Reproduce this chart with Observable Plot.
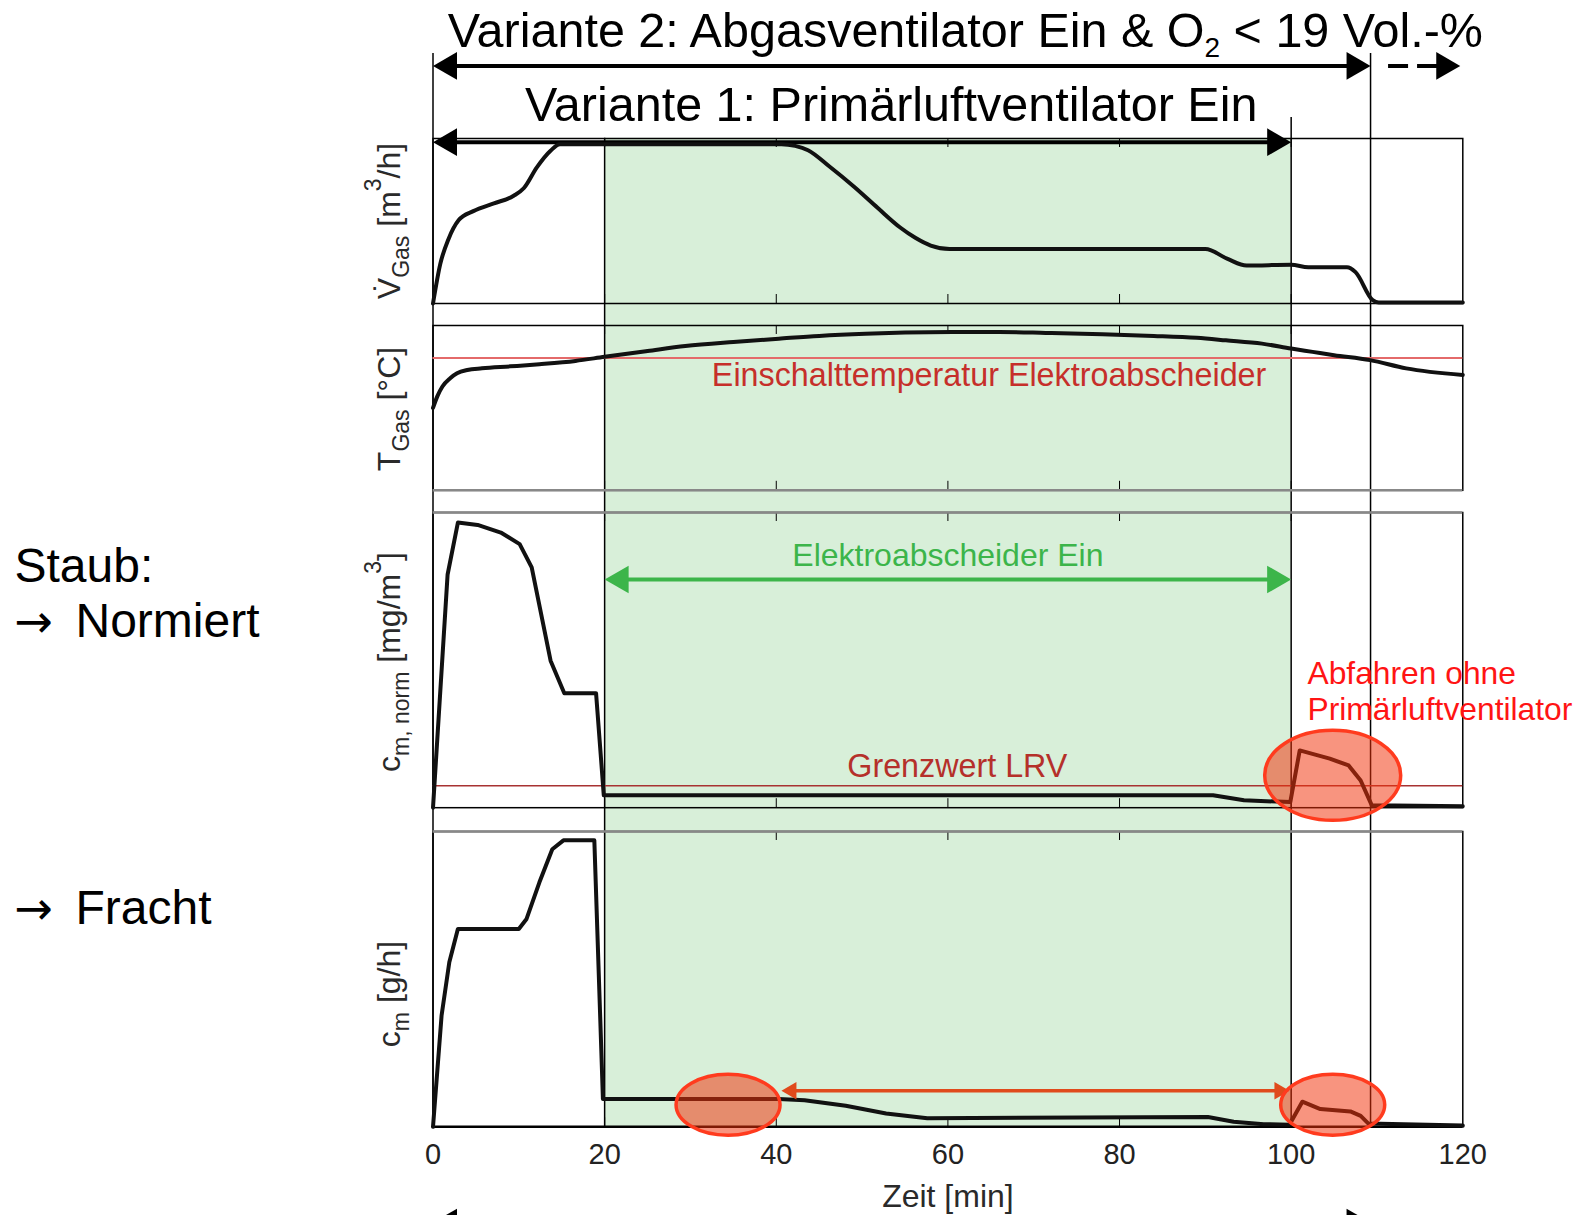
<!DOCTYPE html>
<html lang="de">
<head>
<meta charset="utf-8">
<script src="https://cdn.jsdelivr.net/npm/d3@7"></script>
<script src="https://cdn.jsdelivr.net/npm/@observablehq/plot@0.6"></script>
<style>
  html, body { margin: 0; padding: 0; background: #fff; overflow: hidden; }
  #root { position: relative; width: 1577px; height: 1215px; overflow: hidden; background: #fff; }
  #root > svg { position: absolute; left: 0; }
</style>
</head>
<body>
<div id="root"></div>
<script>
// ---------------- data ----------------
const xTicks = [0, 20, 40, 60, 80, 100, 120];
const innerTicks = [20, 40, 60, 80, 100];

// Volumenstrom Abgas (normiert 0..1)
const flowTime  = [0, 0.85, 1.8, 3.0, 4.7, 7.1, 9.4, 10.6, 12.1, 13.7, 14.8, 40.6, 42.2, 43.7, 46.2, 49.1, 51.8, 54.4, 56.2, 58, 60.2, 90, 92.6, 94.8, 100, 102, 106.5, 107.5, 109.5, 110.2, 120];
const flowValue = [0, 0.24, 0.39, 0.506, 0.56, 0.607, 0.653, 0.70, 0.825, 0.926, 0.965, 0.965, 0.955, 0.929, 0.83, 0.706, 0.58, 0.462, 0.398, 0.351, 0.33, 0.33, 0.27, 0.23, 0.235, 0.22, 0.22, 0.19, 0.02, 0.006, 0.006];

// Abgastemperatur (normiert)
const tempTime  = [0, 0.5, 1.1, 2, 2.8, 4, 5.7, 9, 12.4, 16.6, 20, 25, 29.4, 35, 40.3, 45, 50.4, 55, 60.5, 66, 71.4, 78, 84, 89, 92.4, 96.6, 100, 102.5, 105, 109.2, 113.4, 120];
const tempValue = [0.50, 0.57, 0.63, 0.68, 0.71, 0.73, 0.74, 0.752, 0.765, 0.785, 0.81, 0.845, 0.875, 0.90, 0.92, 0.937, 0.95, 0.957, 0.96, 0.96, 0.955, 0.947, 0.937, 0.925, 0.91, 0.89, 0.86, 0.84, 0.82, 0.79, 0.74, 0.70];
const tempThreshold = [0.803];

// Staub normiert
const dustNormTime  = [0, 1.7, 2.9, 5.2, 7.9, 10.1, 11.5, 13.7, 15.3, 19.0, 19.9, 90.9, 94.5, 99.9, 101.0, 104.5, 106.7, 108.1, 109.4, 120];
const dustNormValue = [0, 0.79, 0.966, 0.958, 0.932, 0.893, 0.814, 0.498, 0.388, 0.388, 0.042, 0.042, 0.025, 0.019, 0.194, 0.166, 0.143, 0.092, 0.008, 0.005];
const dustLimit = [0.074];

// Staubfracht
const dustLoadTime  = [0, 1.0, 1.9, 2.9, 10.0, 10.9, 12.4, 13.9, 15.2, 18.8, 19.8, 40.3, 43.3, 48.1, 52.8, 57.6, 90.3, 93.3, 96.8, 99.8, 101.3, 103.4, 106.9, 108.1, 109.0, 120];
const dustLoadValue = [0, 0.377, 0.557, 0.67, 0.67, 0.704, 0.828, 0.94, 0.97, 0.97, 0.094, 0.094, 0.09, 0.071, 0.045, 0.029, 0.033, 0.017, 0.009, 0.007, 0.085, 0.06, 0.052, 0.037, 0.011, 0.004];

// Phasen (min)
const esPhase = [20, 100];          // Elektroabscheider Ein / Variante 1
const fanOffTime = 109.25;          // Ende Variante 2
const dashEndTime = 119.7;
const loadCompare = [40.6, 99.8];   // Pfeil in Staubfracht

// Texte
const title2 = ["Variante 2: Abgasventilator Ein & O", "2", " < 19 Vol.-%"];
const title1 = "Variante 1: Primärluftventilator Ein";
const sideWords = ["Staub:", "Normiert", "Fracht"];
const sideArrows = ["", "→", "→"];
const tempText = "Einschalttemperatur Elektroabscheider";
const esText = "Elektroabscheider Ein";
const limitText = "Grenzwert LRV";
const shutdownText = "Abfahren ohne\nPrimärluftventilator";
const xLabel = "Zeit [min]";

// ---------------- layout ----------------
const W = 1577, H = 1215;
const ML = 432.5, MR = W - 1462.3;
const FONT = '"Liberation Sans", Arial, Helvetica, sans-serif';
const GREEN = "#d8efd9";
const panels = [
  {top: 137.8, bottom: 302.8},
  {top: 325.2, bottom: 490},
  {top: 511.8, bottom: 807},
  {top: 830.7, bottom: 1126}
];
const root = document.getElementById("root");
const rows = (t, v) => t.map((d, i) => ({t: d, v: v[i]}));

function heads(data, dir, s, fill) {
  const r = Math.sqrt(s * s * 3 * Math.sqrt(3) / Math.PI);
  return Plot.dot(data, {x: "x", y: "y", symbol: "triangle", r, fill, stroke: "none",
    rotate: dir === "right" ? 90 : -90, dx: dir === "right" ? -2 * s : 2 * s});
}

// ---------------- background (green phase, guides, top arrows) ----------------
const yArrow2 = 65.4, yArrow1 = 141.7, yArrowBottom = 1222;
const spans = [
  {y: yArrow2, from: 0, to: fanOffTime},
  {y: yArrow1, from: 0, to: esPhase[1]},
  {y: yArrowBottom, from: 0, to: fanOffTime}
];
const guides = [
  {t: 0, top: 53, bottom: panels[3].bottom},
  {t: esPhase[0], top: panels[0].top, bottom: panels[3].bottom},
  {t: esPhase[1], top: 117, bottom: panels[3].bottom},
  {t: fanOffTime, top: 53, bottom: panels[3].bottom}
];
const sideBaselines = [581.7, 636.7, 923.3];
const sideRows = sideWords.map((d, i) => ({word: d, arrow: sideArrows[i], y: sideBaselines[i]}));

const bg = Plot.plot({
  width: W, height: H, marginLeft: ML, marginRight: MR, marginTop: 0, marginBottom: 0,
  style: {background: "transparent", fontFamily: FONT},
  x: {domain: [0, 120], axis: null},
  y: {domain: [0, H], range: [0, H], axis: null},
  marks: [
    Plot.rect([{x1: esPhase[0], x2: esPhase[1], y1: panels[0].top, y2: panels[3].bottom}],
      {x1: "x1", x2: "x2", y1: "y1", y2: "y2", fill: GREEN}),
    Plot.ruleX(guides, {x: "t", y1: "top", y2: "bottom", stroke: "#000", strokeWidth: 1.5}),
    Plot.ruleY(spans, {y: "y", x1: "from", x2: "to", stroke: "#000", strokeWidth: 4, insetLeft: 10, insetRight: 10}),
    Plot.ruleY([{y: yArrow2, from: fanOffTime + 2.1, to: dashEndTime - 2.5}],
      {y: "y", x1: "from", x2: "to", stroke: "#000", strokeWidth: 4, strokeDasharray: "20,9"}),
    heads(spans.map(d => ({x: d.from, y: d.y})), "left", 8, "#000"),
    heads([...spans.map(d => ({x: d.to, y: d.y})), {x: dashEndTime, y: yArrow2}], "right", 8, "#000"),
    Plot.text(sideRows.filter(d => d.arrow === ""),
      {y: "y", text: "word", frameAnchor: "left", dx: 14 - ML, textAnchor: "start", lineAnchor: "bottom", fontSize: 48, fill: "#000"}),
    Plot.text(sideRows.filter(d => d.arrow !== ""),
      {y: "y", text: "arrow", frameAnchor: "left", dx: 14 - ML, textAnchor: "start", lineAnchor: "bottom", fontSize: 46, fontFamily: "DejaVu Sans", fill: "#000"}),
    Plot.text(sideRows.filter(d => d.arrow !== ""),
      {y: "y", text: "word", frameAnchor: "left", dx: 75 - ML, textAnchor: "start", lineAnchor: "bottom", fontSize: 48, fill: "#000"}),
    Plot.text([{t: 53.4, y: 120, label: title1}],
      {x: "t", y: "y", text: "label", lineAnchor: "bottom", fontSize: 48.5, fill: "#000"})
  ]
});
root.appendChild(bg);

// title with subscript
{
  const xs = bg.scale("x");
  const t = d3.select(bg).append("text")
    .attr("x", xs.apply(62.1)).attr("y", 47)
    .attr("text-anchor", "middle").attr("font-family", FONT).attr("font-size", 48.5).attr("fill", "#000");
  t.append("tspan").text(title2[0]);
  t.append("tspan").attr("dy", 10).attr("font-size", 28).text(title2[1]);
  t.append("tspan").attr("dy", -10).text(title2[2]);
}

// rotated y labels
function addYLabel(svg, xBase, yCenter, parts) {
  const t = d3.select(svg).append("text")
    .attr("transform", `translate(${xBase},${yCenter}) rotate(-90)`)
    .attr("text-anchor", "middle").attr("font-family", FONT).attr("font-size", 32).attr("fill", "#2a2a2a");
  let cur = 0;
  for (const p of parts) {
    const off = p.sub ? 9 : p.sup ? -19 : 0;
    t.append("tspan").attr("dy", off - cur).attr("font-size", p.sub || p.sup ? 23 : 32).text(p.text);
    cur = off;
  }
}
addYLabel(bg, 400, 221, [{text: "V\u0307"}, {text: "Gas", sub: true}, {text: " [m"}, {text: "3", sup: true}, {text: "/h]"}]);
addYLabel(bg, 400, 409, [{text: "T"}, {text: "Gas", sub: true}, {text: " [°C]"}]);
addYLabel(bg, 400, 662, [{text: "c"}, {text: "m, norm", sub: true}, {text: " [mg/m"}, {text: "3", sup: true}, {text: "]"}]);
addYLabel(bg, 400, 994, [{text: "c"}, {text: "m", sub: true}, {text: " [g/h]"}]);

// ---------------- panels ----------------
function makePanel(p, marks, mb = 6) {
  const mt = 6;
  const h = p.bottom - p.top;
  const svg = Plot.plot({
    width: W, height: h + mt + mb,
    marginLeft: ML, marginRight: MR, marginTop: mt, marginBottom: mb,
    style: {background: "transparent", fontFamily: FONT, overflow: "visible"},
    x: {domain: [0, 120], axis: null},
    y: {domain: [0, 1], axis: null},
    marks: [
      Plot.tickX(innerTicks, {x: d => d, insetBottom: h - 9, stroke: "#000", strokeWidth: 1}),
      Plot.tickX(innerTicks, {x: d => d, insetTop: h - 9, stroke: "#000", strokeWidth: 1}),
      Plot.frame({stroke: "#000", strokeWidth: 1.5}),
      ...marks
    ]
  });
  svg.style.top = (p.top - mt) + "px";
  root.appendChild(svg);
  return svg;
}
function addEllipse(svg, t, v, rx, ry) {
  d3.select(svg).append("ellipse")
    .attr("cx", svg.scale("x").apply(t)).attr("cy", svg.scale("y").apply(v))
    .attr("rx", rx).attr("ry", ry)
    .attr("fill", "rgb(242,50,10)").attr("fill-opacity", 0.52)
    .attr("stroke", "#ff3b1e").attr("stroke-width", 3.5);
}
const curve = (t, v, c = "linear") => Plot.line(rows(t, v), {x: "t", y: "v", stroke: "#111", strokeWidth: 4, strokeLinejoin: "round", curve: c});

// Panel 1: Volumenstrom
makePanel(panels[0], [curve(flowTime, flowValue, "monotone-x")]);

// Panel 2: Temperatur
makePanel(panels[1], [
  Plot.ruleY(tempThreshold, {stroke: "#e46a6a", strokeWidth: 2}),
  Plot.text([{t: 64.8, v: 0.631, label: tempText}], {x: "t", y: "v", text: "label", lineAnchor: "bottom", fontSize: 32.3, fill: "#c62f2a"}),
  Plot.ruleY([0], {stroke: "#888", strokeWidth: 2.5}),
  curve(tempTime, tempValue, "monotone-x")
]);

// Panel 3: Staub normiert
const esArrow = [{y: 0.773, from: esPhase[0], to: esPhase[1]}];
const p3 = makePanel(panels[2], [
  Plot.ruleY([1], {stroke: "#888", strokeWidth: 2.5}),
  Plot.ruleY(dustLimit, {stroke: "#a83232", strokeWidth: 1.5}),
  Plot.text([{t: 61.1, v: 0.1026, label: limitText}], {x: "t", y: "v", text: "label", lineAnchor: "bottom", fontSize: 32.3, fill: "#b5302a"}),
  Plot.ruleY(esArrow, {y: "y", x1: "from", x2: "to", stroke: "#3cb54a", strokeWidth: 4, insetLeft: 10, insetRight: 10}),
  heads(esArrow.map(d => ({x: d.from, y: d.y})), "left", 8, "#3cb54a"),
  heads(esArrow.map(d => ({x: d.to, y: d.y})), "right", 8, "#3cb54a"),
  Plot.text([{t: 60, v: 0.82, label: esText}], {x: "t", y: "v", text: "label", lineAnchor: "bottom", fontSize: 32, fill: "#3cb54a"}),
  Plot.text([{t: 101.9, v: 0.297, label: shutdownText}], {x: "t", y: "v", text: "label", textAnchor: "start", lineAnchor: "bottom", lineHeight: 1.13, fontSize: 31.8, fill: "#ff1414"}),
  curve(dustNormTime, dustNormValue)
]);
addEllipse(p3, 104.9, 0.108, 68, 45);

// Panel 4: Staubfracht
const cmpArrow = [{y: 0.122, from: loadCompare[0], to: loadCompare[1]}];
const p4 = makePanel(panels[3], [
  Plot.ruleY([1], {stroke: "#888", strokeWidth: 2.5}),
  Plot.ruleY([0], {stroke: "#000", strokeWidth: 2.5}),
  curve(dustLoadTime, dustLoadValue),
  Plot.ruleY(cmpArrow, {y: "y", x1: "from", x2: "to", stroke: "#e04a1c", strokeWidth: 3.5, insetLeft: 6, insetRight: 6}),
  heads(cmpArrow.map(d => ({x: d.from, y: d.y})), "left", 5, "#e04a1c"),
  heads(cmpArrow.map(d => ({x: d.to, y: d.y})), "right", 5, "#e04a1c"),
  Plot.axisX(xTicks, {anchor: "bottom", tickSize: 0, tickPadding: 17, fontSize: 29, fill: "#222", label: null}),
  Plot.text([{t: 60, label: xLabel}], {x: "t", text: "label", frameAnchor: "bottom", dy: 80.7, lineAnchor: "bottom", fontSize: 32, fill: "#2a2a2a"})
], 95);
addEllipse(p4, 34.44, 0.073, 52, 30.5);
addEllipse(p4, 104.9, 0.073, 52, 30.5);
</script>
</body>
</html>
